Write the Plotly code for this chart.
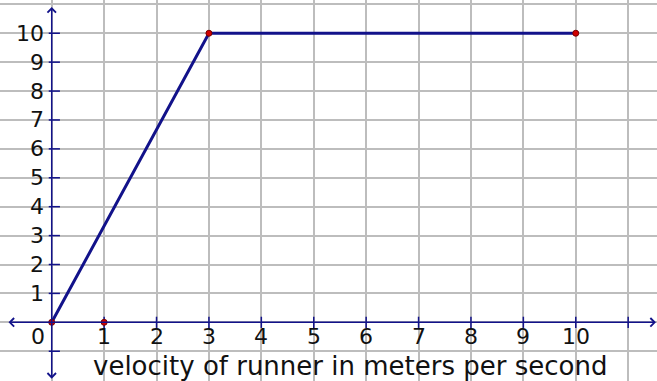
import plotly.graph_objects as go

# Piecewise path of the runner
path_x = [0, 3, 10]
path_y = [0, 10, 10]

# Highlighted points
point_x = [0, 1, 3, 10]
point_y = [0, 0, 10, 10]

# Integer ticks on each axis
x_ticks = [1, 2, 3, 4, 5, 6, 7, 8, 9, 10, 11]
x_tick_labels = ["1", "2", "3", "4", "5", "6", "7", "8", "9", "10"]
y_ticks = [-1, 1, 2, 3, 4, 5, 6, 7, 8, 9, 10]
y_tick_labels = ["1", "2", "3", "4", "5", "6", "7", "8", "9", "10"]

axis_title = "velocity of runner in meters per second"

NAVY = "#12128a"
GRID = "#bdbdbd"
FONT = "DejaVu Sans"
TICK_SIZE = 22

X_RANGE = [-0.987, 11.55]
Y_RANGE = [-2.03, 11.15]

fig = go.Figure()

# tick marks along the x axis
fig.add_trace(go.Scatter(
    x=x_ticks, y=[0] * len(x_ticks), mode="markers",
    marker=dict(symbol="line-ns", size=8, line=dict(color=NAVY, width=1.5)),
    hoverinfo="skip", showlegend=False,
))
# tick marks along the y axis
fig.add_trace(go.Scatter(
    x=[0.05] * len(y_ticks), y=y_ticks, mode="markers",
    marker=dict(symbol="line-ew", size=8, line=dict(color=NAVY, width=1.5)),
    hoverinfo="skip", showlegend=False,
))

# runner's path
fig.add_trace(go.Scatter(
    x=path_x, y=path_y, mode="lines",
    line=dict(color=NAVY, width=3),
    hoverinfo="skip", showlegend=False,
))

# highlighted points
fig.add_trace(go.Scatter(
    x=point_x, y=point_y, mode="markers",
    marker=dict(symbol="circle", size=6, color="#d10000",
                line=dict(color="#7a0000", width=1)),
    hoverinfo="skip", showlegend=False,
))

annotations = []

# axis lines with arrowheads at both ends
annotations.append(dict(
    x=11.53, y=0, ax=-0.853, ay=0, xref="x", yref="y", axref="x", ayref="y",
    text="", showarrow=True, arrowside="end+start", arrowhead=4, startarrowhead=4,
    arrowsize=1.1, startarrowsize=1.1, arrowwidth=1.5, arrowcolor=NAVY,
    standoff=0, startstandoff=0,
))
annotations.append(dict(
    x=0, y=10.91, ax=0, ay=-2.0, xref="x", yref="y", axref="x", ayref="y",
    text="", showarrow=True, arrowside="end+start", arrowhead=4, startarrowhead=4,
    arrowsize=1.1, startarrowsize=1.1, arrowwidth=1.5, arrowcolor=NAVY,
    standoff=0, startstandoff=0,
))

# x tick labels
for v, lab in zip(x_ticks, x_tick_labels):
    annotations.append(dict(
        x=v, y=-0.5, xref="x", yref="y", text=lab, showarrow=False,
        xanchor="center", yanchor="middle",
        font=dict(family=FONT, size=TICK_SIZE, color="#111111"),
    ))
# origin label
annotations.append(dict(
    x=-0.26, y=-0.5, xref="x", yref="y", text="0", showarrow=False,
    xanchor="center", yanchor="middle",
    font=dict(family=FONT, size=TICK_SIZE, color="#111111"),
))
# y tick labels
for v, lab in zip(y_ticks[1:], y_tick_labels):
    annotations.append(dict(
        x=0, y=v, xref="x", yref="y", text=lab, showarrow=False,
        xanchor="right", yanchor="middle", xshift=-6,
        font=dict(family=FONT, size=TICK_SIZE, color="#111111"),
    ))

# axis title inside the plotting area
annotations.append(dict(
    x=5.69, y=-1.5, xref="x", yref="y", text=axis_title, showarrow=False,
    xanchor="center", yanchor="middle",
    font=dict(family=FONT, size=26, color="#111111"),
))

# white strips that trim the grid at the top and left edges
shapes = [
    dict(type="rect", xref="paper", yref="paper", x0=0, x1=5 / 657, y0=0, y1=1,
         fillcolor="white", line=dict(width=0), layer="between"),
    dict(type="rect", xref="paper", yref="paper", x0=0, x1=1, y0=1 - 6 / 381, y1=1,
         fillcolor="white", line=dict(width=0), layer="between"),
]

fig.update_layout(
    width=657, height=381,
    margin=dict(l=0, r=0, t=0, b=0),
    paper_bgcolor="white", plot_bgcolor="white",
    annotations=annotations, shapes=shapes,
    xaxis=dict(range=X_RANGE, tick0=0, dtick=1, showgrid=True, gridcolor=GRID,
               gridwidth=2, zeroline=False, showticklabels=False, showline=False,
               fixedrange=True),
    yaxis=dict(range=Y_RANGE, tick0=0, dtick=1, showgrid=True, gridcolor=GRID,
               gridwidth=2, zeroline=False, showticklabels=False, showline=False,
               fixedrange=True),
)

fig.write_html("out.html", config={"displayModeBar": False})
